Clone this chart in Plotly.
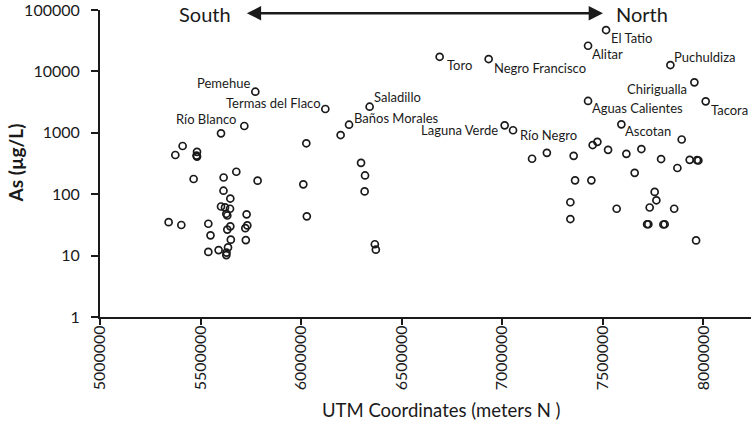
import plotly.graph_objects as go
import math

# UTM northing (m) of each sampled spring
utm_n = [5717600, 5601700, 5772300, 5410800, 5374500, 5482400, 5482400, 5480000, 5677800, 5465500,
         5614700, 5783700, 5614000, 5648000, 5601700, 5621600, 5646500, 5628100, 5633000, 5729000,
         5341200, 5404300, 5538600, 5648000, 5633000, 5732500, 5722600, 5549500, 5650500, 5725100,
         5538600, 5589800, 5636500, 5629100, 5628100,
         6120400, 6025900, 6011000, 6028400, 6340700, 6238300, 6196500, 6298000, 6317800, 6315800,
         6366600, 6371600, 6688800, 6932500, 7012100, 7053800, 7148300, 7222000,
         7516300, 7426800, 7426800, 7592400, 7449700, 7473100, 7526300, 7617300, 7355200, 7362200,
         7443200, 7338800, 7338800, 7569100, 7658600, 7836100, 7955500, 8011700, 7892300, 7691900,
         7789900, 7870900, 7932100, 7968900, 7975400, 7758000, 7766500, 7733200, 7855000, 7720200,
         7726700, 7801300, 7807800, 7963900]

# Arsenic concentration (ug/L)
arsenic = [1290, 980, 4670, 610, 435, 490, 410, 425, 232, 177,
           187, 166, 114, 85, 63, 61, 58, 48, 45, 47,
           35, 31.5, 33, 30, 26.5, 31, 28, 21.4, 18.2, 17.9,
           11.5, 12.3, 13.6, 11.2, 10.2,
           2440, 675, 145, 43.6, 2660, 1355, 920, 324, 202, 111,
           15.3, 12.5, 17300, 15900, 1325, 1100, 378, 472,
           47200, 26200, 3300, 1375, 632, 713, 528, 455, 422, 168,
           168, 74, 39.4, 58, 223, 12700, 6640, 3260, 778, 544,
           374, 267, 363, 360, 354, 109, 79.6, 60.7, 58, 32.4,
           32.4, 32.1, 32.4, 17.7]

# Site names ("" = unlabeled)
site = ["Río Blanco", "", "Pemehue"] + [""] * 32 + \
       ["Termas del Flaco", "", "", "", "Saladillo", "Baños Morales", "", "", "", "",
        "", "", "Toro", "Negro Francisco", "Laguna Verde", "Río Negro", "", "",
        "El Tatio", "Alitar", "Aguas Calientes", "Ascotan", "", "", "", "", "", "",
        "", "", "", "", "", "Puchuldiza", "Chirigualla", "Tacora"] + [""] * 16

y_ticks = [1, 10, 100, 1000, 10000, 100000]
x_ticks = [5000000, 5500000, 6000000, 6500000, 7000000, 7500000, 8000000]

# label placement style: (xanchor, xshift, yshift)
label_style = {
    "Pemehue": ("right", -3, 9),
    "Termas del Flaco": ("right", -2, 6),
    "Río Blanco": ("right", -6, 7),
    "Saladillo": ("left", 2, 10),
    "Baños Morales": ("left", 3, 7),
    "Laguna Verde": ("right", -5, -5),
    "Río Negro": ("left", 5, -5),
    "Toro": ("left", 5, -8),
    "Negro Francisco": ("left", 3, -9),
    "El Tatio": ("left", 3, -8),
    "Alitar": ("left", 2, -8),
    "Aguas Calientes": ("left", 2, -7),
    "Ascotan": ("left", 2, -7),
    "Puchuldiza": ("left", 2, 8),
    "Chirigualla": ("right", -5, -7),
    "Tacora": ("left", 3, -9),
}

FONT = "Lato, 'Open Sans', sans-serif"
INK = "#1a1a1a"

fig = go.Figure()
fig.add_trace(go.Scatter(
    x=utm_n, y=arsenic, mode="markers",
    marker=dict(symbol="circle-open", size=7, color=INK, line=dict(width=1.7, color=INK)),
    hoverinfo="x+y", showlegend=False, cliponaxis=False,
))

annotations = []
for xv, yv, name in zip(utm_n, arsenic, site):
    if not name:
        continue
    xa, xs, ys = label_style[name]
    annotations.append(dict(
        x=xv, y=math.log10(yv), xref="x", yref="y", text=name, showarrow=False,
        xanchor=xa, yanchor="middle", xshift=xs, yshift=ys,
        font=dict(family=FONT, size=13, color=INK),
    ))

# South <-> North arrow
arrow_y = math.log10(88500)
annotations.append(dict(
    x=7501000, y=arrow_y, ax=5722600, ay=arrow_y, xref="x", yref="y", axref="x", ayref="y",
    text="", showarrow=True, arrowside="end+start", arrowhead=2, arrowsize=1.1,
    arrowwidth=2.6, arrowcolor=INK,
))
annotations.append(dict(x=5662900, y=arrow_y, xref="x", yref="y", text="South", showarrow=False,
                        xanchor="right", yanchor="middle", yshift=-1,
                        font=dict(family=FONT, size=20, color=INK)))
annotations.append(dict(x=7553300, y=arrow_y, xref="x", yref="y", text="North", showarrow=False,
                        xanchor="left", yanchor="middle", yshift=-1,
                        font=dict(family=FONT, size=20, color=INK)))

# axis titles
annotations.append(dict(x=0, y=0.5, xref="paper", yref="paper", text="<b>As (µg/L)</b>",
                        textangle=-90, showarrow=False, xanchor="center", yanchor="middle",
                        xshift=-85, font=dict(family=FONT, size=19, color=INK)))
annotations.append(dict(x=0.5, y=0, xref="paper", yref="paper", text="UTM Coordinates (meters N )",
                        showarrow=False, xanchor="center", yanchor="middle",
                        xshift=16, yshift=-93, font=dict(family=FONT, size=18.5, color=INK)))

fig.update_layout(
    width=751, height=436,
    margin=dict(l=100, r=0, t=10, b=119),
    paper_bgcolor="white", plot_bgcolor="white",
    annotations=annotations,
    xaxis=dict(
        range=[5000000, 8237000], tickvals=x_ticks, ticktext=[str(v) for v in x_ticks],
        tickangle=-90, showgrid=False, zeroline=False, automargin=False,
        showline=True, linecolor=INK, linewidth=2, ticklabeloverflow="allow",
        ticks="outside", ticklen=6, tickwidth=2, tickcolor=INK, ticklabelstandoff=-6,
        tickfont=dict(family=FONT, size=16, color=INK),
    ),
    yaxis=dict(
        type="log", range=[0, 5.0002], tickvals=y_ticks, ticktext=[str(v) for v in y_ticks],
        showgrid=False, zeroline=False, automargin=False, ticklabeloverflow="allow",
        showline=True, linecolor=INK, linewidth=2,
        ticks="outside", ticklen=7, tickwidth=2, tickcolor=INK, ticklabelstandoff=8,
        tickfont=dict(family=FONT, size=16, color=INK),
    ),
)

fig.write_html("out.html", config={"displayModeBar": False},
               post_script="document.body.style.margin='0';document.body.style.overflow='hidden';")
